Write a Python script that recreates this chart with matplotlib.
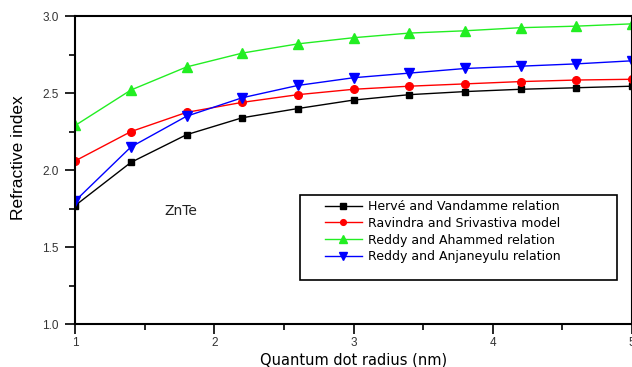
import matplotlib
matplotlib.use('Agg')
from matplotlib import pyplot as plt
from matplotlib.patches import Rectangle
from matplotlib.ticker import MultipleLocator

plt.rcParams['font.family'] = ['Liberation Sans', 'DejaVu Sans']

# quantum dot radius (nm)
radius = [1.0, 1.4, 1.8, 2.2, 2.6, 3.0, 3.4, 3.8, 4.2, 4.6, 5.0]

herve = [1.77, 2.05, 2.23, 2.34, 2.40, 2.455, 2.49, 2.51, 2.525, 2.535, 2.545]
ravindra = [2.06, 2.25, 2.375, 2.44, 2.49, 2.525, 2.545, 2.56, 2.575, 2.585, 2.59]
reddy_ah = [2.29, 2.52, 2.67, 2.76, 2.82, 2.86, 2.89, 2.905, 2.925, 2.935, 2.95]
reddy_an = [1.80, 2.15, 2.35, 2.47, 2.55, 2.60, 2.63, 2.66, 2.675, 2.69, 2.71]

labels = ['Hervé and Vandamme relation', 'Ravindra and Srivastiva model',
          'Reddy and Ahammed relation', 'Reddy and Anjaneyulu relation']

fig = plt.figure(figsize=(6.32, 3.67), dpi=100)
ax = fig.add_axes([0.119, 0.117, 0.881, 0.839])

ax.plot(radius, herve, color='black', marker='s', ms=5, lw=1, label=labels[0])
ax.plot(radius, ravindra, color='#ff0000', marker='o', ms=5.5, lw=1, label=labels[1])
ax.plot(radius, reddy_ah, color='#22ee22', marker='^', ms=7, lw=1, label=labels[2])
ax.plot(radius, reddy_an, color='#0000ff', marker='v', ms=7, lw=1, label=labels[3])

ax.set_xlim(1, 5)
ax.set_ylim(1.0, 3.0)
ax.xaxis.set_major_locator(MultipleLocator(1))
ax.xaxis.set_minor_locator(MultipleLocator(0.5))
ax.yaxis.set_major_locator(MultipleLocator(0.5))
ax.yaxis.set_minor_locator(MultipleLocator(0.25))
ax.tick_params(which='major', direction='out', length=7, width=1.2, pad=2,
               labelsize=8.5, colors='black', labelcolor='#333333')
ax.tick_params(which='minor', direction='out', length=4, width=1.2)
ax.tick_params(axis='y', which='major', pad=5)
for s in ax.spines.values():
    s.set_linewidth(1.5)

ax.set_xlabel('Quantum dot radius (nm)', fontsize=10.5, labelpad=3,
              family=['DejaVu Sans'])
ax.set_ylabel('Refractive index', fontsize=12.5)
ax.yaxis.set_label_coords(-0.088, 0.54)

ax.text(0.16, 0.354, 'ZnTe', transform=ax.transAxes, fontsize=10,
        color='#222222', family=['DejaVu Sans'])

# legend box
ax.add_patch(Rectangle((0.404, 0.143), 0.569, 0.276, transform=ax.transAxes,
                       fill=False, edgecolor='black', lw=1.2, zorder=5))
ax.legend(loc='upper left', bbox_to_anchor=(0.43, 0.435), frameon=False,
          prop={'family': 'DejaVu Sans', 'size': 9}, handlelength=3.0,
          labelspacing=0.3, borderpad=0.3, handletextpad=0.5, markerscale=0.75)

fig.savefig('out.png', dpi=100)
